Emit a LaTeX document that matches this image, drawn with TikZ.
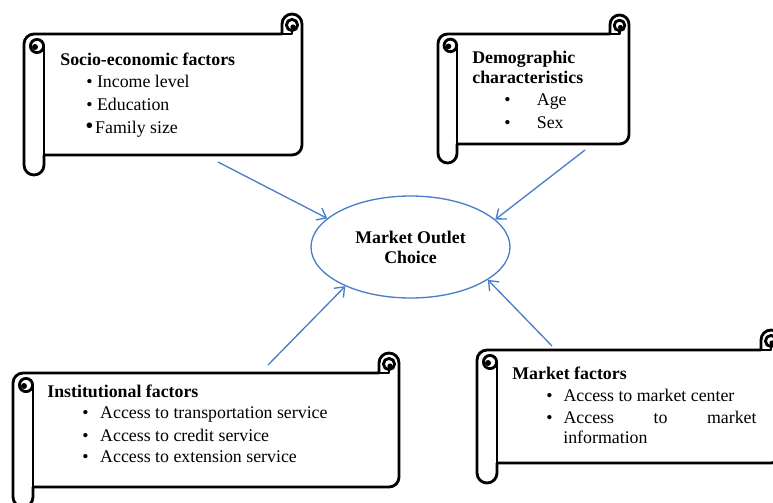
\documentclass[tikz,border=0pt]{standalone}
\usepackage{fontspec}
\setmainfont{Liberation Serif}
\usetikzlibrary{arrows.meta,shapes.geometric}

\definecolor{linkblue}{RGB}{74,126,199}

% horizontal scroll: left, top, right, bottom, curl size (px, y downwards)
\newcommand{\hscroll}[5]{%
  \pgfmathsetmacro{\scrL}{#1}%
  \pgfmathsetmacro{\scrT}{#2}%
  \pgfmathsetmacro{\scrR}{#3}%
  \pgfmathsetmacro{\scrB}{#4}%
  \pgfmathsetmacro{\scrC}{#5}%
  \pgfmathsetmacro{\scrH}{#5/2}%
  % outline: roll top, top edge, right curl, right edge, bottom edge, roll bottom
  \draw[roll]
    (\scrL,\scrT+1.5*\scrC) arc[start angle=180,end angle=270,radius=\scrH]
    -- (\scrR-\scrC,\scrT+\scrC) -- (\scrR-\scrC,\scrT+\scrH)
    arc[start angle=180,end angle=360,radius=\scrH]
    -- (\scrR,\scrB-\scrC-\scrH)
    arc[start angle=0,end angle=90,radius=\scrH]
    -- (\scrL+\scrC,\scrB-\scrC) -- (\scrL+\scrC,\scrB-\scrH)
    arc[start angle=0,end angle=180,radius=\scrH]
    -- cycle;
  % inner side of the left roll and its curl
  \draw[roll] (\scrL+\scrC,\scrB-\scrC) -- (\scrL+\scrC,\scrT+1.6*\scrC);
  \draw[roll] (\scrL+0.65*\scrC,\scrT+1.6*\scrC) circle[radius=0.33*\scrC];
  \fill (\scrL+0.55*\scrC,\scrT+1.65*\scrC) circle[radius=0.15*\scrC];
  % curl at the top right corner
  \draw[roll] (\scrR-\scrC,\scrT+\scrC) -- (\scrR-0.5*\scrC,\scrT+\scrC)
    -- (\scrR-0.5*\scrC,\scrT+0.83*\scrC);
  \draw[roll] (\scrR-0.5*\scrC,\scrT+0.55*\scrC) circle[radius=0.28*\scrC];
  \fill (\scrR-0.45*\scrC,\scrT+0.65*\scrC) circle[radius=0.13*\scrC];
}

\begin{document}
\begin{tikzpicture}[
    x=0.6pt,y=-0.6pt,
    roll/.style={line width=1.7pt,line join=round,line cap=round},
    item/.style={anchor=base west,inner sep=0pt,font=\fontsize{10.7}{13}\selectfont},
    head/.style={item,font=\fontsize{10.7}{13}\selectfont\bfseries},
    hub/.style={ellipse,draw=linkblue,line width=0.8pt,minimum width=119.4pt,minimum height=61.2pt,
      inner sep=0pt,align=center,font=\fontsize{10.7}{12}\selectfont\bfseries},
    link/.style={draw=linkblue,line width=0.8pt,-{Straight Barb[length=5pt,width=8pt]}}
  ]
    \useasboundingbox (0,0) rectangle (773,502);

    % the four scrolls
    \hscroll{24}{14}{302}{175}{20}
    \hscroll{438}{15}{629}{163}{19}
    \hscroll{13}{353}{399}{507}{20}
    \hscroll{477}{330}{781}{483}{20}

    % socio-economic factors
    \node[head] (socio) at (60,65) {Socio-economic factors};
    \node[item] (socioA) at (86,87) {\textbullet\ Income level};
    \node[item] (socioB) at (86,110) {\textbullet\ Education};
    \node[item] (socioC) at (85,133) {{\fontsize{14}{14}\selectfont\textbullet}\hspace{1pt}Family size};

    % demographic characteristics
    \node[head] (demo) at (472,63) {Demographic};
    \node[head] (demoB) at (472,83) {characteristics};
    \node[item] (demoC) at (504,105) {\textbullet\hspace{15.8pt}Age};
    \node[item] (demoD) at (504,128) {\textbullet\hspace{15.8pt}Sex};

    % institutional factors
    \node[head] (inst) at (47,397) {Institutional factors};
    \node[item] (instA) at (82,418) {\textbullet\hspace{7pt}Access to transportation service};
    \node[item] (instB) at (82,441) {\textbullet\hspace{7pt}Access to credit service};
    \node[item] (instC) at (82,462) {\textbullet\hspace{7pt}Access to extension service};

    % market factors
    \node[head] (market) at (512,379) {Market factors};
    \node[item] (marketA) at (546,401) {\textbullet\hspace{6.6pt}Access to market center};
    \node[item] (marketB) at (546,423) {\textbullet\hspace{6.6pt}\makebox[115.8pt][s]{Access\hfill to\hfill market}};
    \node[item] (marketC) at (563,443) {information};

    % centre
    \node[hub] (outlet) at (410.5,247) {Market Outlet\\Choice};

    \coordinate (socioTail) at (218,162);
    \coordinate (demoTail) at (585,150);
    \coordinate (instTail) at (268,365);
    \coordinate (marketTail) at (552,346);

    \draw[link] (socioTail) -- (outlet.161);
    \draw[link] (demoTail) -- (outlet.18);
    \draw[link] (instTail) -- (outlet.211);
    \draw[link] (marketTail) -- (outlet.337);
\end{tikzpicture}
\end{document}
